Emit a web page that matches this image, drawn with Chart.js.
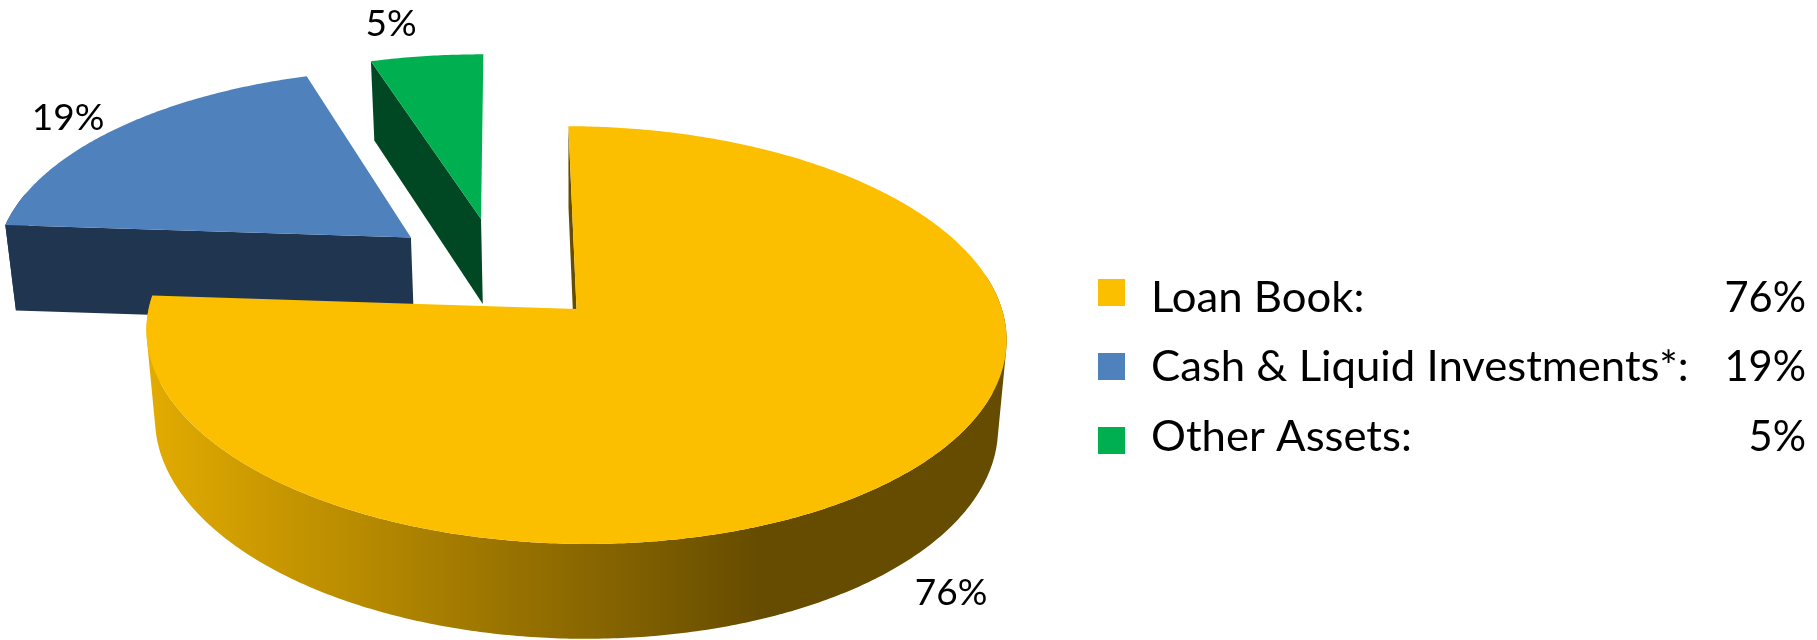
<!DOCTYPE html>
<html>
<head>
<meta charset="utf-8">
<title>Asset mix</title>
<script src="https://cdn.jsdelivr.net/npm/chart.js@4"></script>
<style>
  html, body { margin: 0; padding: 0; background: #fff; }
  canvas { display: block; }
</style>
</head>
<body>
<canvas id="assets" width="1817" height="640"></canvas>
<script>
const categories = ['Loan Book:', 'Cash & Liquid Investments*:', 'Other Assets:'];
const shares = [76, 19, 5];
const topColors = ['#fcbf00', '#4f81bd', '#00b050'];
const wallColors = ['#664c00', '#203550', '#004824'];

// tilted pie plane, origin sits on the point of the big slice
const view = { x: 575, y: 310, a: 427, b: 205.8, p: 0.1244, depth: 89.7, q: 0.02, roll: 0.0116, u0: -0.185, v0: -0.197 };

function project(u, v, z) {
  const uu = u + view.u0, vv = v + view.v0;
  const w = 1 - view.p * vv + view.q * z;
  const dx = view.a * uu / w;
  return [view.x + dx, view.y + (view.b * vv + view.depth * z) / w + view.roll * dx];
}

function addPoly(ctx, pts) {
  pts.forEach((p, i) => i ? ctx.lineTo(p[0], p[1]) : ctx.moveTo(p[0], p[1]));
  ctx.closePath();
}

function fillPoly(ctx, pts) {
  ctx.beginPath();
  addPoly(ctx, pts);
  ctx.fill();
}

function signedArea(pts) {
  let sum = 0;
  pts.forEach((p, i) => {
    const q = pts[(i + 1) % pts.length];
    sum += p[0] * q[1] - q[0] * p[1];
  });
  return sum;
}

function drawSlice(ctx, arc, i) {
  const k = arc.options.offset / arc.outerRadius;
  const mid = (arc.startAngle + arc.endAngle) / 2;
  const ou = Math.cos(mid) * k, ov = Math.sin(mid) * k;

  const rim = [];
  const steps = Math.ceil((arc.endAngle - arc.startAngle) / 0.01);
  for (let s = 0; s <= steps; s++) {
    const t = arc.startAngle + (arc.endAngle - arc.startAngle) * s / steps;
    rim.push([ou + Math.cos(t), ov + Math.sin(t)]);
  }
  const top = rim.map(r => project(r[0], r[1], 0));
  const bottom = rim.map(r => project(r[0], r[1], 1));
  const apex = z => project(ou, ov, z);

  // big slice shades from gold on the left to brown on the right
  let wall = wallColors[i];
  if (i === 0) {
    wall = ctx.createLinearGradient(150, 0, 760, 0);
    wall.addColorStop(0, '#e2ab00');
    wall.addColorStop(1, wallColors[0]);
  }

  // cut face on the leading edge, the trailing one faces away
  ctx.fillStyle = wallColors[i];
  fillPoly(ctx, [apex(0), top[0], bottom[0], apex(1)]);

  // outer wall: quads in one path, all wound the same way so none cancel.
  // the back of the rim never shows, so it is skipped
  ctx.fillStyle = wall;
  ctx.beginPath();
  for (let s = 0; s < steps; s++) {
    if (rim[s][1] - ov < -0.2) continue;
    const quad = [top[s], top[s + 1], bottom[s + 1], bottom[s]];
    addPoly(ctx, signedArea(quad) < 0 ? quad.reverse() : quad);
  }
  ctx.fill();

  // top face
  ctx.fillStyle = topColors[i];
  fillPoly(ctx, [apex(0)].concat(top));
}

function text(ctx, str, x, y, size, xScale, align) {
  ctx.save();
  ctx.font = size + 'px Lato';
  ctx.fillStyle = '#000';
  ctx.textAlign = align;
  ctx.textBaseline = 'alphabetic';
  ctx.translate(x, y);
  ctx.scale(xScale, 1);
  ctx.fillText(str, 0, 0);
  ctx.restore();
}

const pie3d = {
  id: 'pie3d',
  beforeDatasetsDraw(chart) {
    const ctx = chart.ctx;
    const arcs = chart.getDatasetMeta(0).data;
    // far slices first, the big one overlaps them
    for (let i = arcs.length - 1; i >= 0; i--) drawSlice(ctx, arcs[i], i);
    return false;
  },
  afterDraw(chart) {
    const ctx = chart.ctx;
    const labelSpots = [[951, 605], [68, 130], [391, 36]];
    shares.forEach((v, i) => {
      text(ctx, v + '%', labelSpots[i][0], labelSpots[i][1], 37, 1, 'center');
    });

    const rowTop = [279, 353, 427];
    const baseline = [312, 381, 451];
    categories.forEach((c, i) => {
      ctx.fillStyle = topColors[i];
      ctx.fillRect(1098, rowTop[i], 27, 27);
      text(ctx, c, 1151, baseline[i], 42, 1.04, 'left');
      text(ctx, shares[i] + '%', 1806, baseline[i], 42, 0.99, 'right');
    });
  }
};

new Chart(document.getElementById('assets'), {
  type: 'pie',
  data: {
    labels: categories,
    datasets: [{
      data: shares,
      backgroundColor: topColors,
      borderWidth: 0,
      offset: 76
    }]
  },
  options: {
    responsive: false,
    animation: false,
    rotation: -1.2,
    layout: { padding: 0 },
    plugins: { legend: { display: false }, tooltip: { enabled: false } }
  },
  plugins: [pie3d]
});
</script>
</body>
</html>
